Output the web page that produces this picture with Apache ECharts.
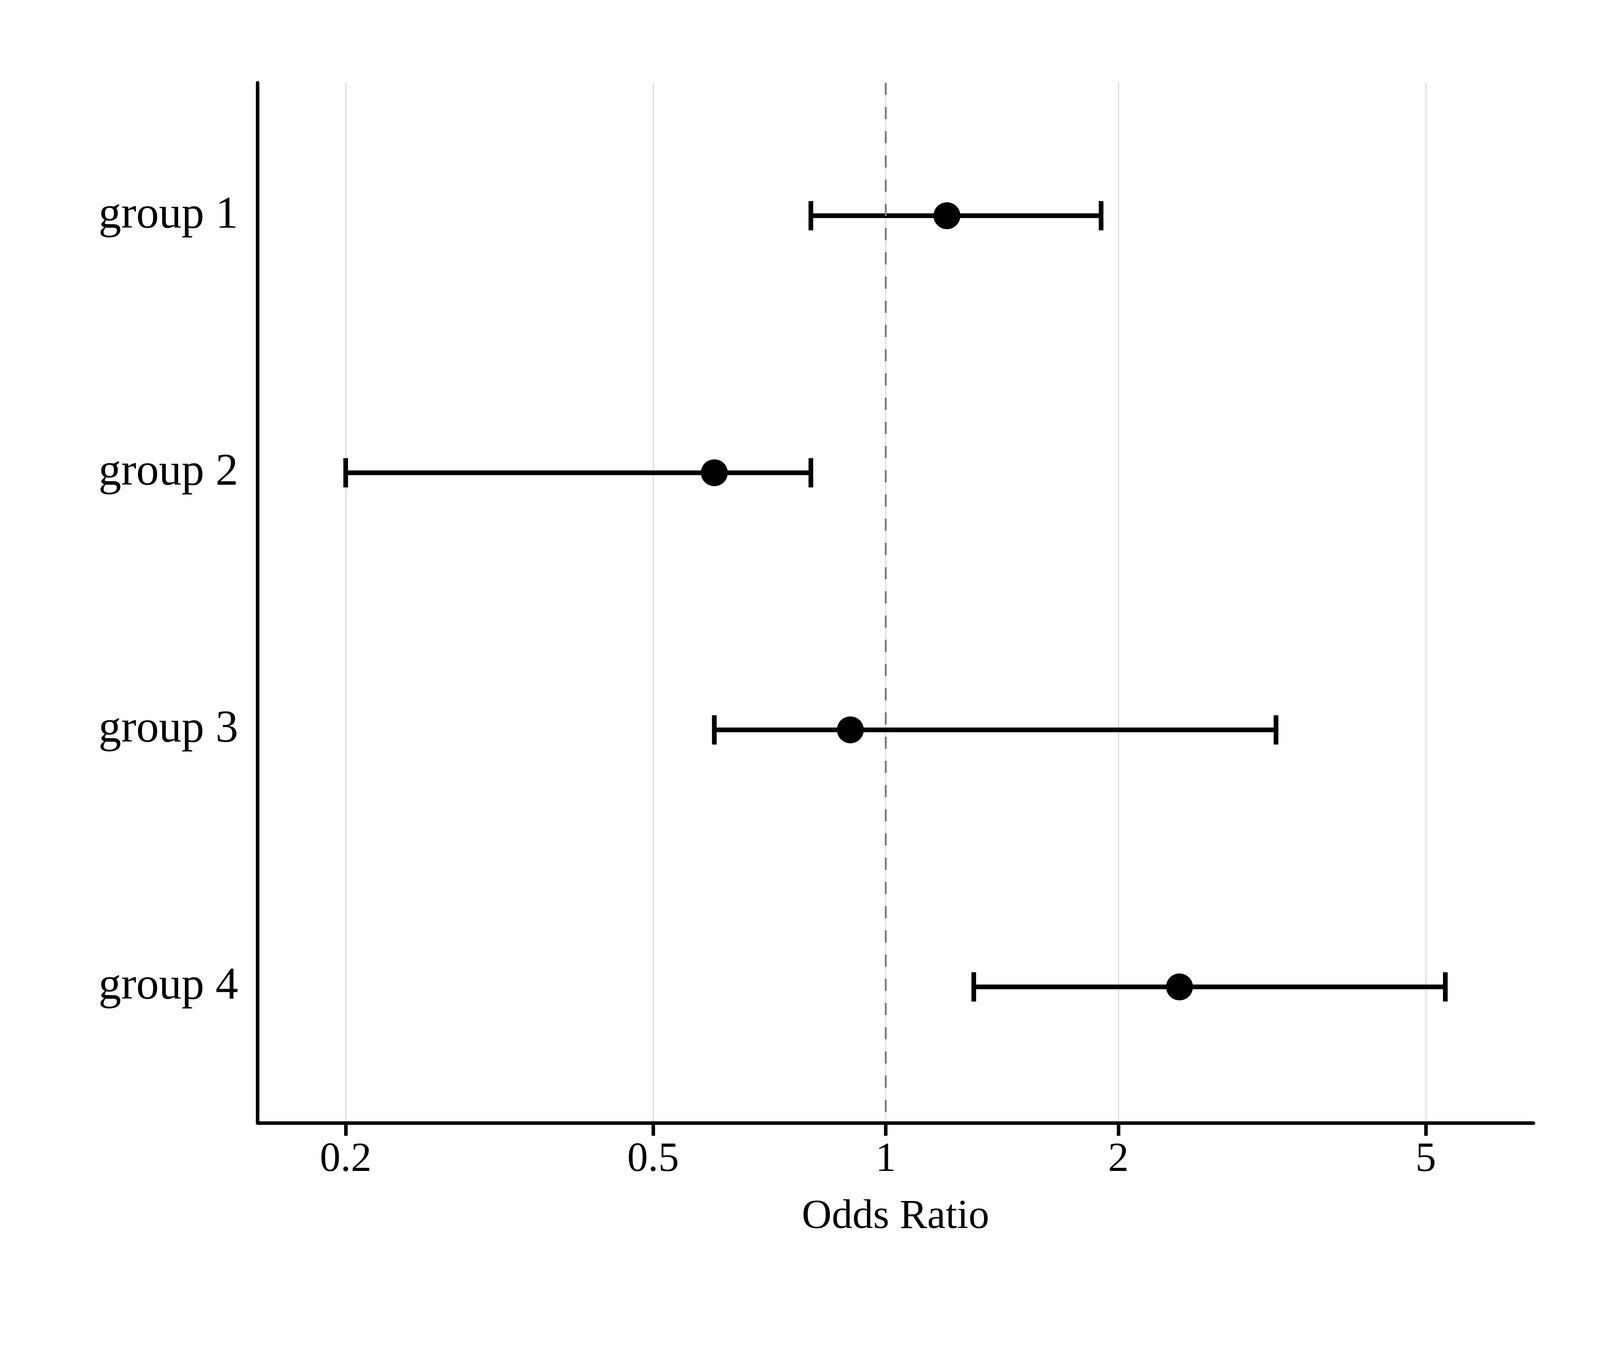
<!DOCTYPE html>
<html>
<head>
<meta charset="utf-8">
<script src="https://cdn.jsdelivr.net/npm/echarts@6/dist/echarts.min.js"></script>
<style>html,body{margin:0;padding:0;background:#fff;overflow:hidden}#chart{width:100vw;height:100vh}</style>
</head>
<body>
<div id="chart"></div>
<script>
const groups = ['group 1', 'group 2', 'group 3', 'group 4'];
const oddsRatio = [1.2, 0.6, 0.9, 2.4];
const ciLower = [0.8, 0.2, 0.6, 1.3];
const ciUpper = [1.9, 0.8, 3.2, 5.3];
const xTicks = [0.2, 0.5, 1, 2, 5];
const refLine = 1;

const rowPos = groups.map((g, i) => i + 1);
const pointData = oddsRatio.map((v, i) => [v, rowPos[i]]);
const ciData = ciLower.map((lo, i) => [lo, ciUpper[i], rowPos[i]]);

const FONT = 'Liberation Serif';
const el = document.getElementById('chart');
const chart = echarts.init(el);
const sx = chart.getWidth() / 5125;
const sy = chart.getHeight() / 3500;

chart.setOption({
  animation: false,
  backgroundColor: '#ffffff',
  grid: { left: 825 * sx, right: 213 * sx, top: 212 * sy, bottom: 625 * sy, containLabel: false, outerBoundsMode: 'none' },
  xAxis: {
    type: 'log', logBase: 10, min: 0.1538, max: 6.893,
    name: 'Odds Ratio', nameLocation: 'middle', nameGap: 188 * sy,
    nameTextStyle: { fontFamily: FONT, fontSize: 106 * sy, color: '#000' },
    axisLine: { show: true, lineStyle: { color: '#000', width: 9 } },
    axisTick: { show: true, customValues: xTicks, length: 33 * sy, lineStyle: { color: '#000', width: 9 } },
    axisLabel: { customValues: xTicks, margin: 42 * sy, fontFamily: FONT, fontSize: 106 * sy, color: '#000', formatter: v => String(+v.toPrecision(6)) },
    splitLine: { show: true, lineStyle: { color: '#dcdcdc', width: 3 } },
    minorTick: { show: false }, minorSplitLine: { show: false }
  },
  yAxis: {
    type: 'value', inverse: true, min: 0.483, max: 4.529,
    axisLine: { show: true, lineStyle: { color: '#000', width: 9 } },
    axisTick: { show: false },
    axisLabel: { customValues: rowPos, margin: 62 * sx, fontFamily: FONT, fontSize: 116 * sy, color: '#000', formatter: v => groups[Math.round(v) - 1] },
    splitLine: { show: false }
  },
  series: [
    {
      type: 'scatter', data: [], z: 1, silent: true,
      markLine: {
        silent: true, symbol: ['none', 'none'], label: { show: false },
        lineStyle: { color: '#808080', type: [31, 31], width: 5 },
        emphasis: { disabled: true },
        data: [{ xAxis: refLine }]
      }
    },
    {
      type: 'custom', z: 3, silent: true,
      data: ciData,
      encode: { x: [0, 1], y: 2 },
      renderItem: function (params, api) {
        const y = api.value(2);
        const p1 = api.coord([api.value(0), y]);
        const p2 = api.coord([api.value(1), y]);
        const h = 37.5 * sy;
        const st = { stroke: '#000', lineWidth: 12, fill: null };
        return {
          type: 'group',
          children: [
            { type: 'line', shape: { x1: p1[0], y1: p1[1], x2: p2[0], y2: p2[1] }, style: st },
            { type: 'line', shape: { x1: p1[0], y1: p1[1] - h, x2: p1[0], y2: p1[1] + h }, style: st },
            { type: 'line', shape: { x1: p2[0], y1: p2[1] - h, x2: p2[0], y2: p2[1] + h }, style: st }
          ]
        };
      }
    },
    {
      type: 'scatter', z: 4, silent: true,
      data: pointData,
      symbol: 'circle', symbolSize: 69 * sy,
      itemStyle: { color: '#000', opacity: 1 }
    }
  ]
});
</script>
</body>
</html>
